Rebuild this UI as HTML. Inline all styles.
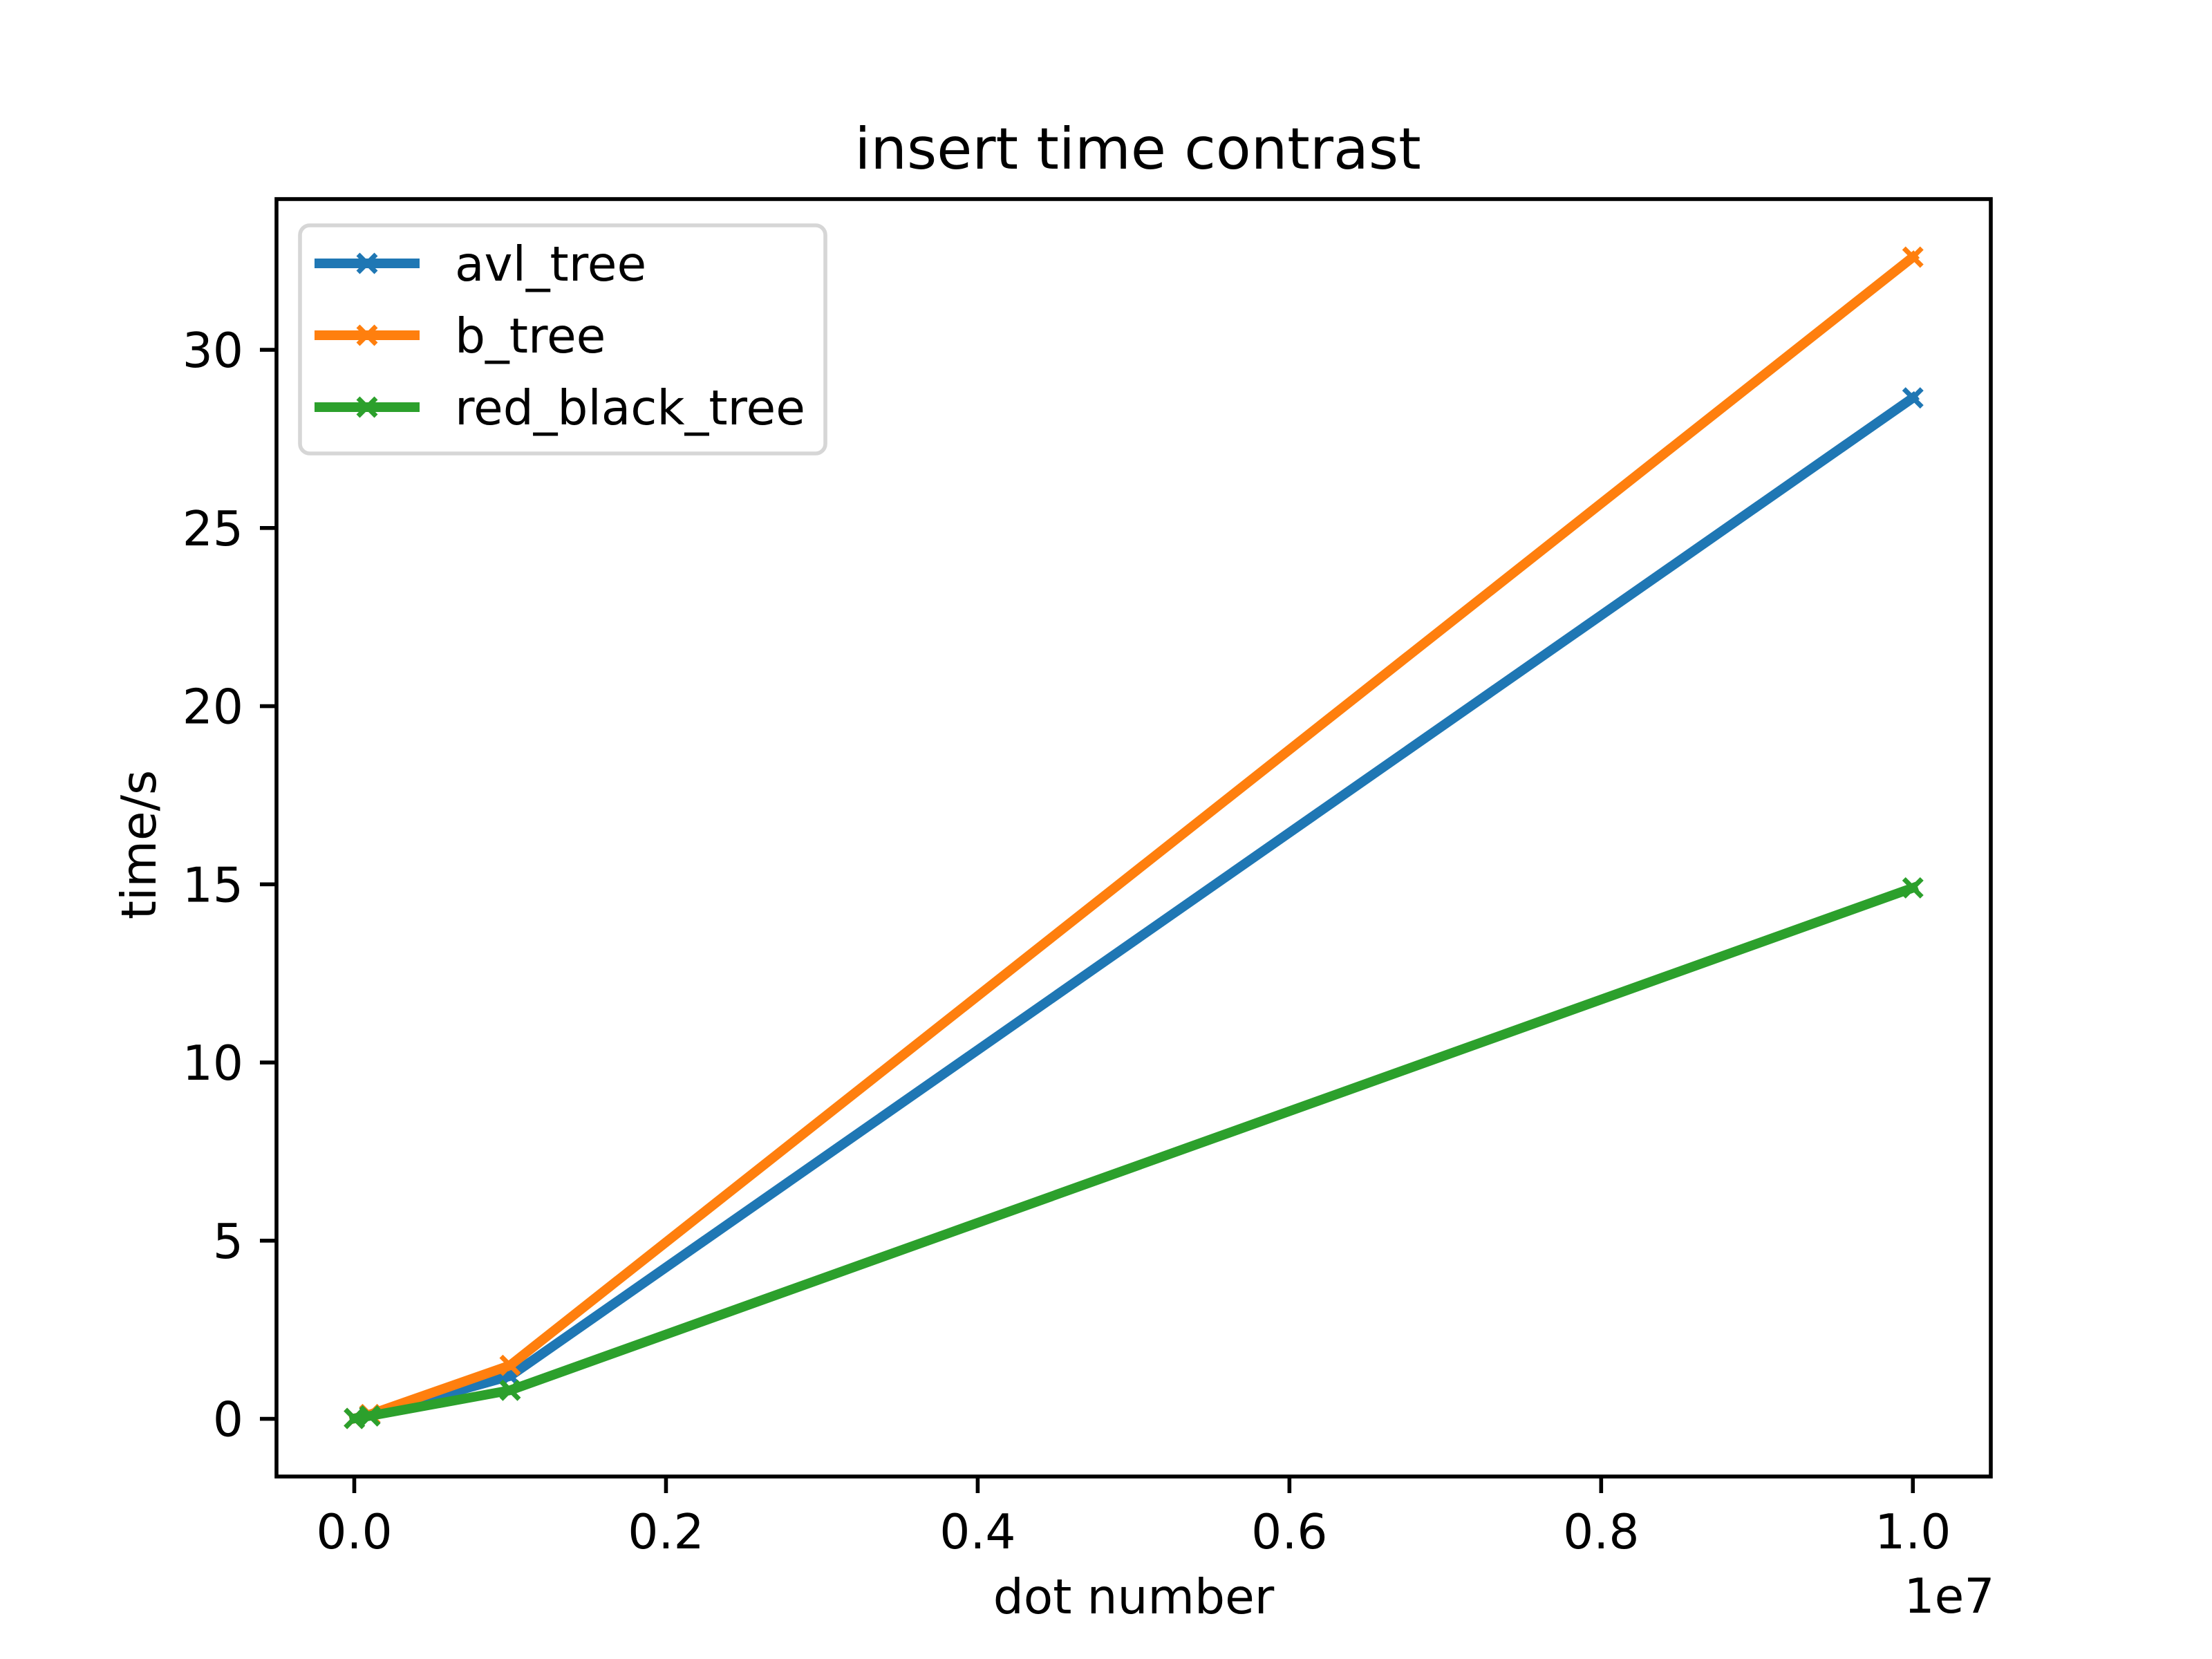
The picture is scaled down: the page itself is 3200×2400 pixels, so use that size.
<!DOCTYPE html>
<html><head><meta charset="utf-8"><style>
html,body{margin:0;padding:0;background:#fff}
svg{display:block}
text{font-family:"DejaVu Sans","Liberation Sans",sans-serif;fill:#000}
</style></head><body>
<svg id="chart" width="3200" height="2400" viewBox="0 0 3200 2400">
<rect width="3200" height="2400" fill="#fff"/>
<text x="1646" y="244" font-size="83" text-anchor="middle">insert time contrast</text>
<g id="series"></g>
<rect x="400" y="288" width="2480" height="1848" fill="none" stroke="#000" stroke-width="5.6"/>
<g id="ticks"></g>
<text x="1640" y="2334" font-size="69.4" text-anchor="middle">dot number</text>
<text x="2820" y="2333" font-size="69.4" text-anchor="middle">1e7</text>
<text transform="translate(225,1222) rotate(-90)" font-size="69.4" text-anchor="middle">time/s</text>
<g id="legend"></g>
</svg>
<script>
const categories = [1000, 100000, 1000000, 10000000];
const seriesNames = ["avl_tree", "b_tree", "red_black_tree"];
const avlValues = [0.01, 0.1, 1.2, 28.65];
const bValues = [0.01, 0.12, 1.5, 32.6];
const rbValues = [0.01, 0.08, 0.8, 14.9];
const xTickValues = [0, 2000000, 4000000, 6000000, 8000000, 10000000];
const xTickLabels = ["0.0", "0.2", "0.4", "0.6", "0.8", "1.0"];
const yTickValues = [0, 5, 10, 15, 20, 25, 30];
const yTickLabels = ["0", "5", "10", "15", "20", "25", "30"];

const colors = ["#1f77b4", "#ff7f0e", "#2ca02c"];
const allSeries = [avlValues, bValues, rbValues];
const L = 400, R = 2880, T = 288, B = 2136;
const xs = categories;
const xmin0 = Math.min(...xs), xmax0 = Math.max(...xs);
const xr = xmax0 - xmin0;
const xlo = xmin0 - 0.05 * xr, xhi = xmax0 + 0.05 * xr;
const allV = [].concat(...allSeries);
const ymin0 = Math.min(...allV), ymax0 = Math.max(...allV);
const yr = ymax0 - ymin0;
const ylo = ymin0 - 0.05 * yr, yhi = ymax0 + 0.05 * yr;
const xScale = v => L + (v - xlo) / (xhi - xlo) * (R - L);
const yScale = v => B - (v - ylo) / (yhi - ylo) * (B - T);
const NS = "http://www.w3.org/2000/svg";
function mk(tag, attrs, parent) {
  const e = document.createElementNS(NS, tag);
  for (const k in attrs) e.setAttribute(k, attrs[k]);
  parent.appendChild(e);
  return e;
}
const ticks = document.getElementById("ticks");
xTickValues.forEach((v, i) => {
  const x = xScale(v);
  const t = mk("line", {x1: x, x2: x, y1: B, y2: B + 24, stroke: "#000", "stroke-width": 5.6}, ticks);
  
  
  const lb = mk("text", {x: x, y: B + 104, "font-size": 69.4, "text-anchor": "middle"}, ticks);
  lb.textContent = xTickLabels[i];
  
  
});
yTickValues.forEach((v, i) => {
  const y = yScale(v);
  const t = mk("line", {x1: L - 24, x2: L, y1: y, y2: y, stroke: "#000", "stroke-width": 5.6}, ticks);
  
  
  const lb = mk("text", {x: L - 48, y: y + 25, "font-size": 69.4, "text-anchor": "end"}, ticks);
  lb.textContent = yTickLabels[i];
  
  
});
function marker(g, x, y, c) {
  const s = 13;
  mk("path", {d: `M${x-s},${y-s}L${x+s},${y+s}M${x-s},${y+s}L${x+s},${y-s}`, stroke: c, "stroke-width": 7, fill: "none"}, g);
}
const sg = document.getElementById("series");
allSeries.forEach((vals, si) => {
  const g = mk("g", {}, sg);
  
  
  const pts = vals.map((v, i) => xScale(xs[i]) + "," + yScale(v)).join(" ");
  const pl = mk("polyline", {points: pts, fill: "none", stroke: colors[si], "stroke-width": 14, "stroke-linejoin": "round", "stroke-linecap": "square"}, g);
  
  
  vals.forEach((v, i) => marker(g, xScale(xs[i]), yScale(v), colors[si]));
});
const lg = document.getElementById("legend");
mk("rect", {x: 434, y: 326, width: 760, height: 330, rx: 14, fill: "#fff", "fill-opacity": 0.8, stroke: "#d6d6d6", "stroke-width": 5.6}, lg);
seriesNames.forEach((n, i) => {
  const y = 381 + i * 104;
  const g = mk("g", {}, lg);
  
  
  mk("line", {x1: 455, x2: 607, y1: y, y2: y, stroke: colors[i], "stroke-width": 14}, g);
  marker(g, 531, y, colors[i]);
  const t = mk("text", {x: 658, y: y + 25, "font-size": 69.4}, g);
  t.textContent = n;
});
</script>
</body></html>
